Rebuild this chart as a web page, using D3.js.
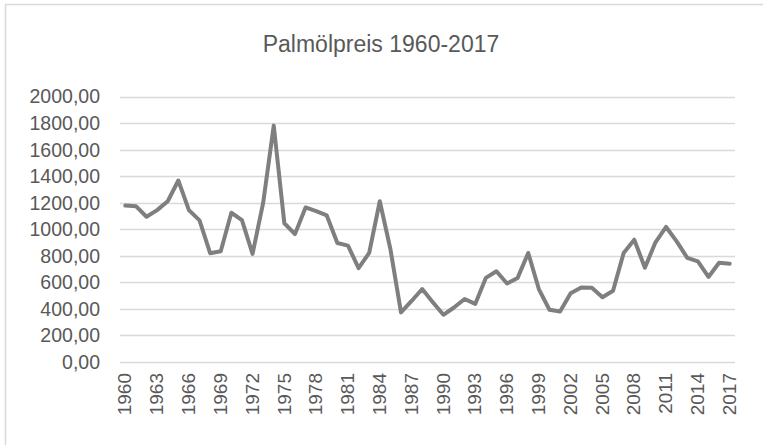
<!DOCTYPE html>
<html>
<head>
<meta charset="utf-8">
<script src="https://cdn.jsdelivr.net/npm/d3@7"></script>
<style>
  body { margin: 0; background: #fff; }
  text { font-family: "Liberation Sans", Arial, sans-serif; fill: #595959; }
</style>
</head>
<body>
<div id="chart"></div>
<script>
'use strict';

// palm oil price per year
const years = d3.range(1960, 2018);
const prices = [
    1179, 1175, 1095, 1145, 1212, 1368, 1145, 1068, 820, 835,
    1125, 1070, 815, 1199, 1782, 1046, 964, 1165, 1137, 1105,
    897, 877, 708, 822, 1212, 852, 374, 460, 550, 451,
    356, 411, 475, 438, 634, 684, 592, 634, 822, 550,
    394, 381, 518, 562, 560, 488, 537, 822, 922, 711,
    902, 1018, 909, 785, 758, 641, 748, 741
];
const yTicks = [0, 200, 400, 600, 800, 1000, 1200, 1400, 1600, 1800, 2000];
const xLabelYears = years.filter(y => (y - 1960) % 3 === 0);
const title = "Palmölpreis 1960-2017";

let width = 763, height = 445;
let margin = {top: 96.7, right: 28, bottom: 83, left: 120};

let svg = d3.select("#chart").append("svg")
    .attr("width", width)
    .attr("height", height);

// outer chart border (runs off the right/bottom edge)
svg.append("rect")
    .attr("x", 5.5)
    .attr("y", 4.5)
    .attr("width", 900)
    .attr("height", 600)
    .attr("fill", "none")
    .attr("stroke", "#d9d9d9")
    .attr("stroke-width", 1.5);

let x = d3.scalePoint()
    .domain(years)
    .range([margin.left, width - margin.right])
    .padding(0.5);

let y = d3.scaleLinear()
    .domain([0, 2000])
    .range([height - margin.bottom, margin.top]);

// gridlines
svg.append("g")
    .selectAll("line")
    .data(yTicks)
    .join("line")
    .attr("x1", margin.left)
    .attr("x2", width - margin.right)
    .attr("y1", d => Math.round(y(d)) + 0.5)
    .attr("y2", d => Math.round(y(d)) + 0.5)
    .attr("stroke", "#d9d9d9")
    .attr("stroke-width", 1.3);

// y axis labels
svg.append("g")
    .attr("transform", `translate(${margin.left},0)`)
    .call(d3.axisLeft(y).tickValues(yTicks).tickSize(0).tickPadding(20)
        .tickFormat(d => d3.format(".2f")(d).replace(".", ",")))
    .call(g => g.select(".domain").remove())
    .selectAll("text")
    .style("font-size", "19.5px")
    .attr("fill", "#595959");

// x axis labels, rotated
svg.append("g")
    .attr("transform", `translate(0,${height - margin.bottom})`)
    .call(d3.axisBottom(x).tickValues(xLabelYears).tickSize(0))
    .call(g => g.select(".domain").remove())
    .selectAll("text")
    .style("font-size", "19px")
    .attr("fill", "#595959")
    .attr("y", -1)
    .attr("x", -11)
    .attr("dy", "0.35em")
    .attr("transform", "rotate(-90)")
    .style("text-anchor", "end");

// the price line
let line = d3.line()
    .x((d, i) => x(years[i]))
    .y(d => y(d));

svg.append("path")
    .datum(prices)
    .attr("d", line)
    .attr("fill", "none")
    .attr("stroke", "#7f7f7f")
    .attr("stroke-width", 4)
    .attr("stroke-linejoin", "round")
    .attr("stroke-linecap", "round");

svg.append("text")
    .attr("x", 381)
    .attr("y", 52)
    .attr("text-anchor", "middle")
    .style("font-size", "23px")
    .text(title);
</script>
</body>
</html>
